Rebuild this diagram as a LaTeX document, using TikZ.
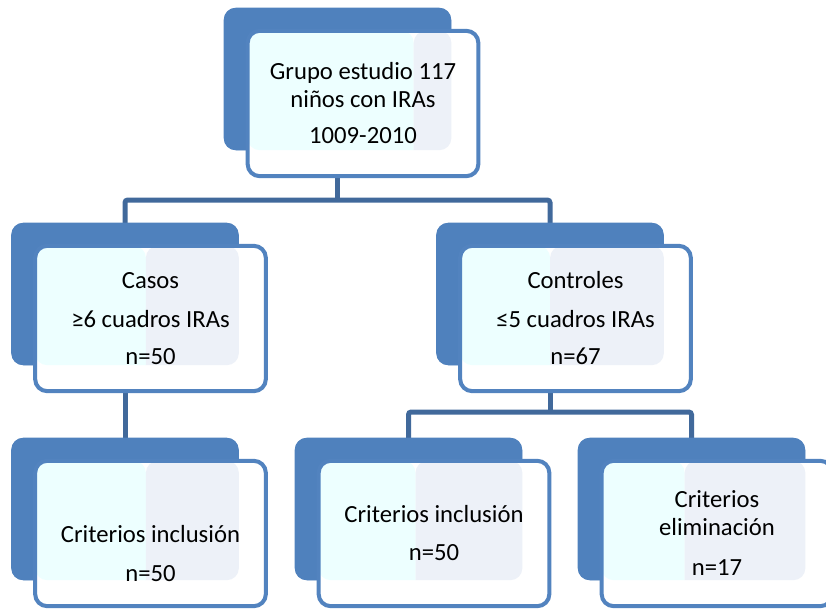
\documentclass[tikz,border=0pt]{standalone}
\usepackage{fontspec}
\setmainfont{Carlito}
\usetikzlibrary{calc}

\definecolor{azul}{HTML}{4F81BD}
\definecolor{borde}{HTML}{5283BF}
\definecolor{conector}{HTML}{41699B}
\definecolor{cian}{HTML}{EDFFFF}
\definecolor{lila}{HTML}{EDF1F8}

\tikzset{
  atras/.style={fill=azul, rounded corners=9pt, minimum width=170.25pt,
    minimum height=106.5pt, inner sep=0pt},
  frente/.style={draw=borde, line width=3pt, fill=white, rounded corners=9pt,
    minimum width=173pt, minimum height=109pt, inner sep=0pt, align=center,
    font=\fontsize{18.5}{21}\selectfont,
    path picture={
      \begin{scope}
        \clip[rounded corners=9pt] (path picture bounding box.north west) rectangle
          ([shift={(-20.25pt,19.5pt)}]path picture bounding box.south east);
        \fill[cian] (path picture bounding box.north west) rectangle
          ($(path picture bounding box.south west)!#1!(path picture bounding box.south east)$);
        \fill[lila] ($(path picture bounding box.north west)!#1!(path picture bounding box.north east)$)
          rectangle (path picture bounding box.south east);
      \end{scope}
    }},
  linea/.style={draw=conector, line width=3.75pt, rounded corners=2pt}
}

\begin{document}
\begin{tikzpicture}[x=0.75pt,y=-0.75pt]
  \useasboundingbox (0,0) rectangle (826,608);
  \clip (0,0) rectangle (826,608);
  % cajas de fondo
  \node[atras] (grupo) at (337.5,79) {};
  \node[atras] (casos) at (125,294) {};
  \node[atras] (controles) at (550,294) {};
  \node[atras] (inclA) at (125,509) {};
  \node[atras] (inclB) at (408.5,509) {};
  \node[atras] (elim) at (691.5,509) {};
  % conectores
  \coordinate (r1) at (337.5,200);
  \coordinate (r2) at (550,412);
  \draw[linea] (grupo.south) -- (r1);
  \draw[linea] ([yshift=-4pt]casos.north) |- (r1) -| ([yshift=-4pt]controles.north);
  \draw[linea] (casos.south) -- ([yshift=-4pt]inclA.north);
  \draw[linea] (controles.south) -- (r2);
  \draw[linea] ([yshift=-4pt]inclB.north) |- (r2) -| ([yshift=-4pt]elim.north);
  % se repintan las cajas de fondo sobre los conectores
  \foreach \n in {grupo,casos,controles,inclA,inclB,elim}
    \fill[azul, rounded corners=9pt] (\n.south west) rectangle (\n.north east);
  % cajas de texto
  \node[frente=0.72] (grupoF) at (363,103.5)
    {Grupo estudio 117\\ niños con IRAs\\[6pt] 1009-2010};
  \node[frente=0.48] (casosF) at (150.5,318.5)
    {Casos\\[8pt] ≥6 cuadros IRAs\\[7pt] n=50};
  \node[frente=0.39] (controlesF) at (575.5,318.5)
    {Controles\\[8pt] ≤5 cuadros IRAs\\[7pt] n=67};
  \node[frente=0.48] (inclAF) at (150.5,533.5)
    {\mbox{}\\[22pt] Criterios inclusión\\[8pt] n=50};
  \node[frente=0.42] (inclBF) at (434,533.5)
    {Criterios inclusión\\[7.5pt] n=50};
  \node[frente=0.36] (elimF) at (717,533.5)
    {Criterios\\ eliminación\\[9pt] n=17};
\end{tikzpicture}
\end{document}
